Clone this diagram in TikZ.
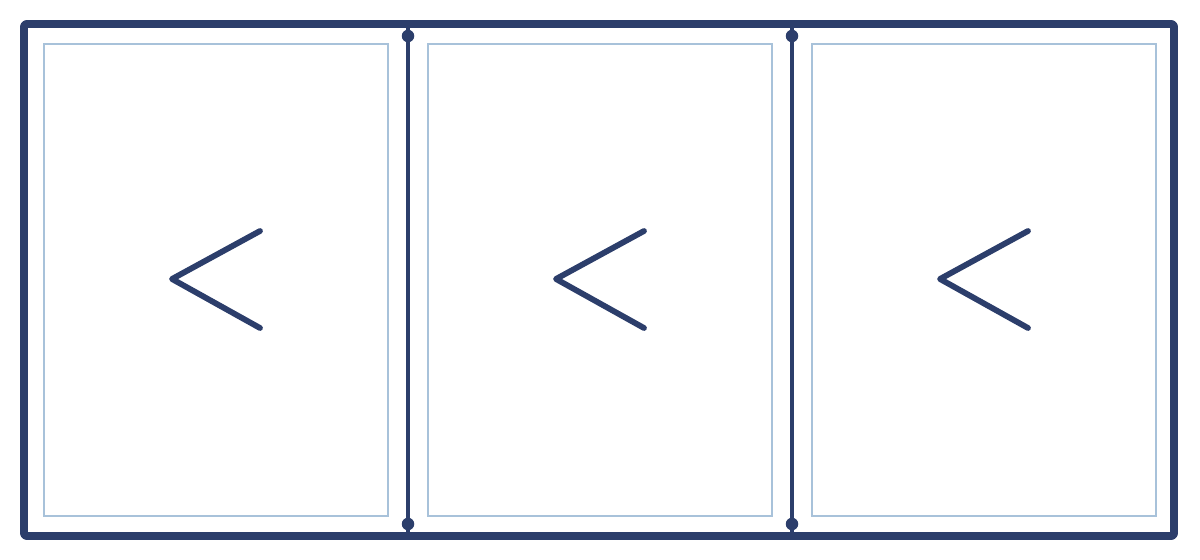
\documentclass[tikz,border=0pt]{standalone}
\usepackage{tikz}
\usetikzlibrary{calc}
\definecolor{frame}{RGB}{44,62,107}
\definecolor{glass}{RGB}{168,194,218}

\begin{document}
\begin{tikzpicture}[
    x=0.02cm,y=-0.02cm,
    outerframe/.style={draw=frame,line width=4.5pt,rounded corners=1.5pt,line join=round},
    pane/.style={draw=glass,line width=0.9pt},
    mullion/.style={draw=frame,line width=2.3pt},
    pivot/.style={fill=frame},
    chevron/.style={draw=frame,line width=3.3pt,line cap=round,line join=round}
  ]
    \useasboundingbox (0,0) rectangle (1200,560);

    % Outer frame
    \draw[outerframe] (24,24) rectangle (1174,536);

    % Panes with sliding arrows
    \foreach \i/\px in {1/44,2/428,3/812} {
      \draw[pane] (\px,44) rectangle ++(344,472);
      \coordinate (tip\i) at (\px+128,279);
      \draw[chevron] ($(tip\i)+(88,-48)$) -- (tip\i) -- ($(tip\i)+(88,49)$);
    }

    % Mullions
    \foreach \j/\mx in {1/408,2/792} {
      \coordinate (top\j) at (\mx,36);
      \coordinate (bot\j) at (\mx,524);
      \draw[mullion] (\mx,28) -- (\mx,532);
      \fill[pivot] (top\j) circle (0.125cm);
      \fill[pivot] (bot\j) circle (0.125cm);
    }
  \end{tikzpicture}
\end{document}
